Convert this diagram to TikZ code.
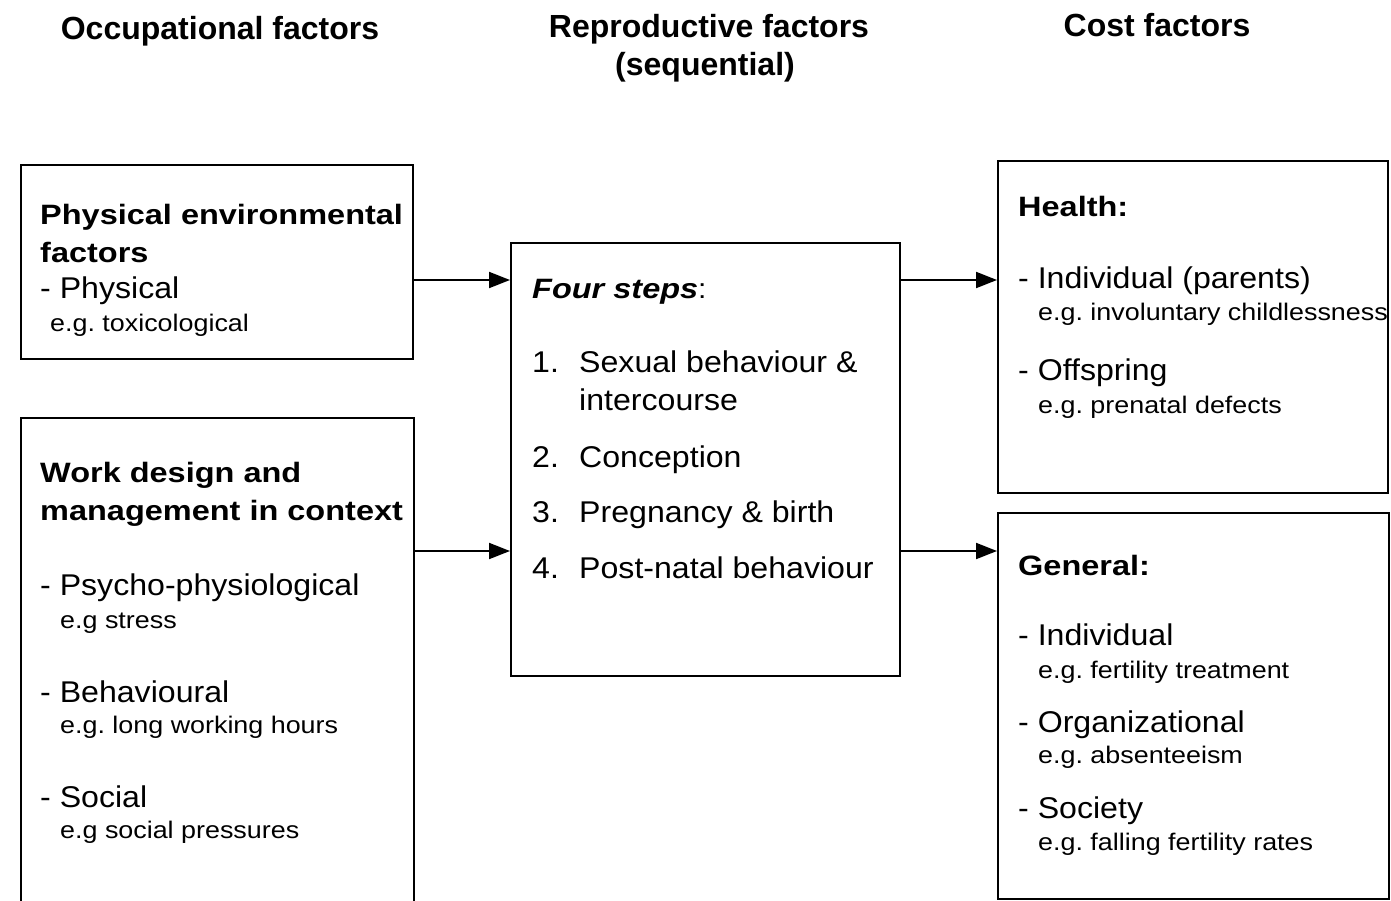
\documentclass[tikz,border=0pt]{standalone}
\usepackage{fontspec}
\setmainfont{Liberation Sans}
\newfontfamily\boldf[FakeStretch=1.16]{Liberation Sans}
\newfontfamily\regf[FakeStretch=1.07]{Liberation Sans}
\newfontfamily\smallf[FakeStretch=1.12]{Liberation Sans}
\usetikzlibrary{arrows.meta}
\frenchspacing
\tikzset{
  box/.style={draw, line width=2.2pt, inner sep=0pt, anchor=north west},
  hd/.style={font=\fontsize{32}{38}\selectfont\bfseries, anchor=base, inner sep=0pt},
  ttl/.style={font=\boldf\fontsize{28}{34}\selectfont\bfseries, anchor=base west, inner sep=0pt},
  itm/.style={font=\regf\fontsize{30}{36}\selectfont, anchor=base west, inner sep=0pt},
  egl/.style={font=\smallf\fontsize{24}{30}\selectfont, anchor=base west, inner sep=0pt},
  arr/.style={line width=2pt, -{Triangle[length=21pt,width=16pt]}}
}
\begin{document}
\begin{tikzpicture}[x=1pt,y=-1pt]
\clip (0,0) rectangle (1391,901);
\fill[white] (0,0) rectangle (1391,901);

% column headers
\node[hd] (h1) at (220,40) {Occupational factors};
\node[hd] (h2) at (709,38) {Reproductive factors};
\node[hd] (h2b) at (705,76) {(sequential)};
\node[hd] (h3) at (1157,37) {Cost factors};

% boxes
\node[box, minimum width=392pt, minimum height=194pt] (b1) at (20,164) {};
\node[box, minimum width=393pt, minimum height=500pt] (b2) at (20,417) {};
\node[box, minimum width=389pt, minimum height=433pt] (mid) at (510,242) {};
\node[box, minimum width=390pt, minimum height=332pt] (hb) at (997,160) {};
\node[box, minimum width=391pt, minimum height=386pt] (gb) at (997,512) {};

% arrows
\coordinate (r1) at (0,280);
\coordinate (r2) at (0,551);
\draw[arr] (b1.east |- r1) -- (mid.west |- r1);
\draw[arr] (b2.east |- r2) -- (mid.west |- r2);
\draw[arr] (mid.east |- r1) -- (hb.west |- r1);
\draw[arr] (mid.east |- r2) -- (gb.west |- r2);

% box 1
\node[ttl] (t1a) at (40,225) {Physical environmental};
\node[ttl] (t1b) at (40,262) {factors};
\node[itm] (i1) at (40,298) {- Physical};
\node[egl] (e1) at (50,331) {e.g. toxicological};

% box 2
\node[ttl] (t2a) at (40,482) {Work design and};
\node[ttl] (t2b) at (40,520) {management in context};
\node[itm] (i2a) at (40,595) {- Psycho-physiological};
\node[egl] (e2a) at (60,628) {e.g stress};
\node[itm] (i2b) at (40,702) {- Behavioural};
\node[egl] (e2b) at (60,733) {e.g. long working hours};
\node[itm] (i2c) at (40,807) {- Social};
\node[egl] (e2c) at (60,838) {e.g social pressures};

% middle box
\node[ttl, font=\boldf\fontsize{28}{34}\selectfont\bfseries\itshape] (ms) at (532,298) {Four steps\normalfont\regf\fontsize{28}{34}\selectfont:};
\node[itm] (n1) at (532,372) {1.};
\node[itm] (s1) at (579,372) {Sexual behaviour \&};
\node[itm] (s1b) at (579,410) {intercourse};
\node[itm] (n2) at (532,467) {2.};
\node[itm] (s2) at (579,467) {Conception};
\node[itm] (n3) at (532,522) {3.};
\node[itm] (s3) at (579,522) {Pregnancy \& birth};
\node[itm] (n4) at (532,578) {4.};
\node[itm] (s4) at (579,578) {Post-natal behaviour};

% health box
\node[ttl] (th) at (1018,217) {Health:};
\node[itm] (ih1) at (1018,288) {- Individual (parents)};
\node[egl] (eh1) at (1038,320) {e.g. involuntary childlessness};
\node[itm] (ih2) at (1018,380) {- Offspring};
\node[egl] (eh2) at (1038,413) {e.g. prenatal defects};

% general box
\node[ttl] (tg) at (1018,575) {General:};
\node[itm] (ig1) at (1018,645) {- Individual};
\node[egl] (eg1) at (1038,678) {e.g. fertility treatment};
\node[itm] (ig2) at (1018,732) {- Organizational};
\node[egl] (eg2) at (1038,763) {e.g. absenteeism};
\node[itm] (ig3) at (1018,818) {- Society};
\node[egl] (eg3) at (1038,850) {e.g. falling fertility rates};
\end{tikzpicture}
\end{document}
